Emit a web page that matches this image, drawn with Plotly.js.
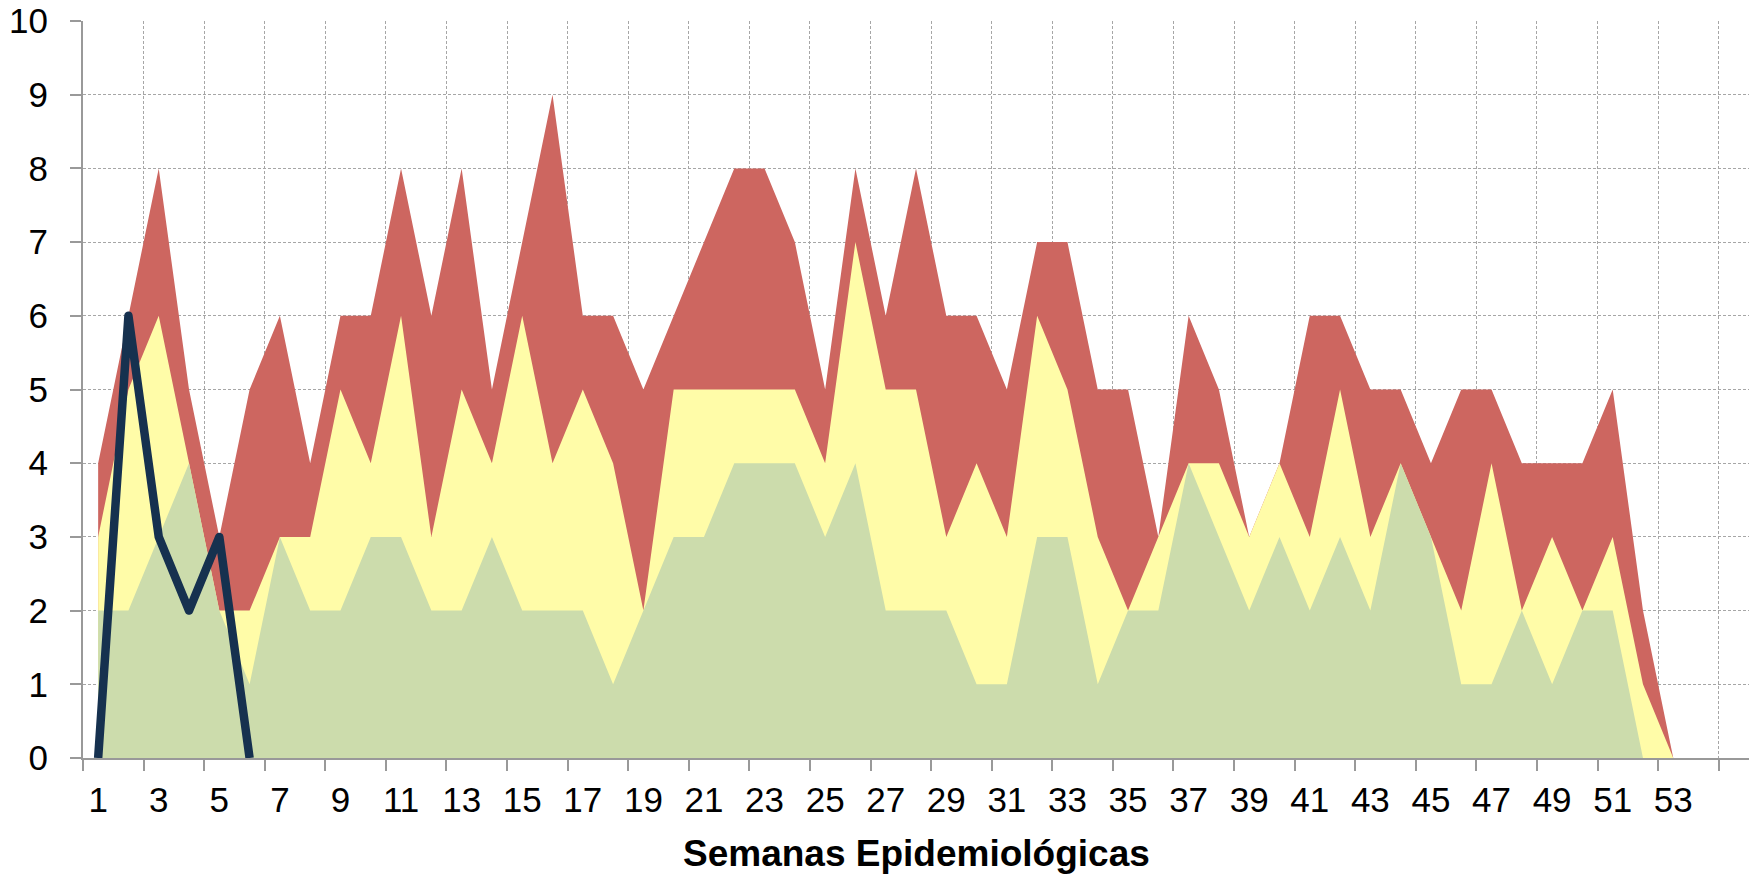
<!DOCTYPE html>
<html>
<head>
<meta charset="utf-8">
<script src="https://cdn.plot.ly/plotly-3.0.1.min.js"></script>
<style>
  html, body { margin: 0; padding: 0; background: #ffffff; }
  #chart { width: 1756px; height: 875px; }
  #chart .scatterlayer .trace path.js-line { stroke-linejoin: round !important; }
</style>
</head>
<body>
<div id="chart"></div>
<script>
// Semanas epidemiológicas 1..53
const weeks = Array.from({length: 53}, (_, i) => i + 1);
const weekLabels = [1,3,5,7,9,11,13,15,17,19,21,23,25,27,29,31,33,35,37,39,41,43,45,47,49,51,53];

// Zona de alarma (límite superior)
const alarma = [4,6,8,5,3,5,6,4,6,6, 8,6,8,5,7,9,6,6,5,6, 7,8,8,7,5,8,6,8,6,6,
                5,7,7,5,5,3,6,5,3,4, 6,6,5,5,4,5,5,4,4,4, 5,2,0];
// Zona de seguridad
const seguridad = [3,5,6,4,2,2,3,3,5,4, 6,3,5,4,6,4,5,4,2,5, 5,5,5,5,4,7,5,5,3,4,
                   3,6,5,3,2,3,4,4,3,4, 3,5,3,4,3,2,4,2,3,2, 3,1,0];
// Zona de éxito
const exito = [2,2,3,4,2,1,3,2,2,3, 3,2,2,3,2,2,2,1,2,3, 3,4,4,4,3,4,2,2,2,1,
               1,3,3,1,2,2,4,3,2,3, 2,3,2,4,3,1,1,2,1,2, 2,0,0];
// Casos del año actual
const actualWeeks = [1,2,3,4,5,6];
const actual = [0,6,3,2,3,0];

const gridColor = '#a6a6a6';
const axisColor = '#999999';

const traces = [
  { x: weeks, y: alarma, type: 'scatter', mode: 'lines', fill: 'tozeroy',
    line: {width: 0, color: '#cd6660'}, fillcolor: '#cd6660', hoverinfo: 'skip', name: 'Alarma' },
  { x: weeks, y: seguridad, type: 'scatter', mode: 'lines', fill: 'tozeroy',
    line: {width: 0, color: '#fffca8'}, fillcolor: '#fffca8', hoverinfo: 'skip', name: 'Seguridad' },
  { x: weeks, y: exito, type: 'scatter', mode: 'lines', fill: 'tozeroy',
    line: {width: 0, color: '#ccdcac'}, fillcolor: '#ccdcac', hoverinfo: 'skip', name: 'Éxito' },
  { x: actualWeeks, y: actual, type: 'scatter', mode: 'lines',
    line: {width: 8.5, color: '#16314f'}, name: 'Casos' }
];

const layout = {
  width: 1756, height: 875,
  margin: {l: 83, r: 7, t: 21, b: 117},
  paper_bgcolor: '#ffffff', plot_bgcolor: '#ffffff',
  showlegend: false,
  font: {family: '"Liberation Sans", Arial, sans-serif', color: '#000000'},
  xaxis: {
    range: [0.5, 55.5],
    tickmode: 'array', tickvals: weekLabels, ticktext: weekLabels.map(String),
    ticks: '', showgrid: false, zeroline: false,
    showline: true, linecolor: axisColor, linewidth: 2,
    tickfont: {size: 35, color: '#000000'},
    ticklabelstandoff: 10,
    minor: {tick0: 0.5, dtick: 2, ticks: 'outside', ticklen: 11, tickwidth: 2, tickcolor: axisColor,
            showgrid: true, gridcolor: gridColor, gridwidth: 1, griddash: '3px,2px'},
    fixedrange: true
  },
  yaxis: {
    range: [0, 10], dtick: 1, tick0: 0,
    ticks: 'outside', ticklen: 11, tickwidth: 2, tickcolor: axisColor,
    showline: true, linecolor: axisColor, linewidth: 2,
    showgrid: true, gridcolor: gridColor, gridwidth: 1, griddash: '3px,2px',
    zeroline: false,
    tickfont: {size: 35, color: '#000000'},
    ticklabelstandoff: 15,
    fixedrange: true
  },
  annotations: [{
    text: '<b>Semanas Epidemiológicas</b>',
    xref: 'paper', yref: 'paper', x: 0.5, y: -0.129,
    xanchor: 'center', yanchor: 'middle', showarrow: false,
    font: {size: 37, color: '#000000', family: '"Liberation Sans", Arial, sans-serif'}
  }]
};

Plotly.newPlot('chart', traces, layout, {displayModeBar: false, staticPlot: true});
</script>
</body>
</html>
